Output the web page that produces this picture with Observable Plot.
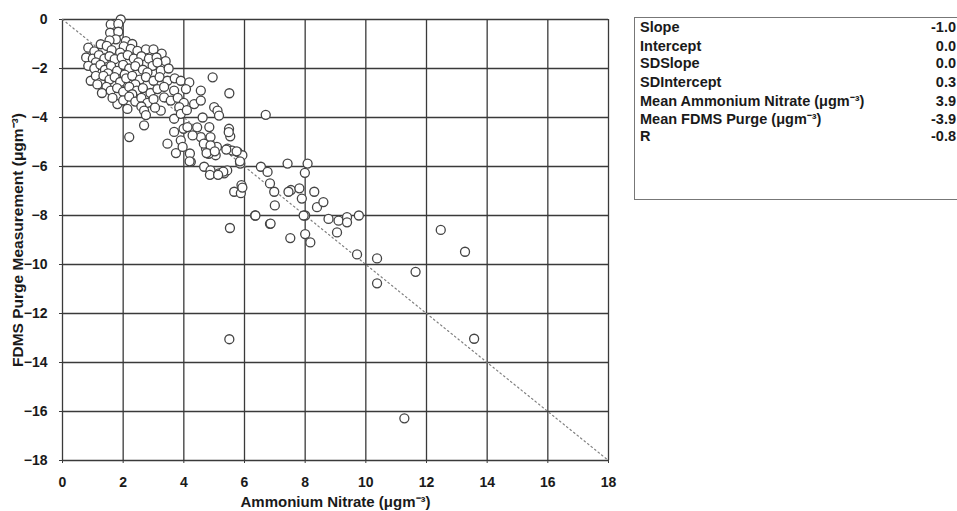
<!DOCTYPE html>
<html>
<head>
<meta charset="utf-8">
<script src="https://cdn.jsdelivr.net/npm/d3@7"></script>
<script src="https://cdn.jsdelivr.net/npm/@observablehq/plot@0.6"></script>
<style>
  html, body { margin: 0; padding: 0; background: #fff; overflow: hidden; }
  #wrap { position: relative; width: 957px; height: 511px; overflow: hidden; }
  #stats {
    position: absolute; left: 634px; top: 17px; width: 340px; height: 183px;
    border: 1px solid #777; box-sizing: border-box; background: #fff;
    font-family: "Liberation Sans", Arial, sans-serif; font-size: 14.5px; font-weight: bold; color: #1a1a1a;
  }
  #stats .row { position: absolute; left: 5px; height: 18px; line-height: 18px; white-space: nowrap; }
  #stats .val { position: absolute; right: 17px; height: 18px; line-height: 18px; text-align: right; }
</style>
</head>
<body>
<div id="wrap">
  <div id="chart"></div>
  <div id="stats"></div>
</div>
<script>
// Paired samples: [ammonium nitrate (µg m-3), FDMS purge measurement (µg m-3)]
const observations = [
  // low-concentration column near 2 µg m-3
  [1.92, 0.0], [1.59, -0.2], [1.84, -0.18], [1.57, -0.54], [1.84, -0.5], [1.76, -0.81], [2.09, -0.88], [1.55, -0.85], [2.3, -1.0],
  // dense cluster
  [0.85, -1.15], [1.05, -1.3], [1.26, -1.01], [1.46, -1.08], [1.62, -1.25], [2.02, -1.1], [2.25, -1.2], [2.47, -1.28], [2.75, -1.22], [3.0, -1.22], [3.27, -1.39], [1.9, -1.35],
  [0.78, -1.55], [1.0, -1.6], [1.2, -1.45], [1.38, -1.6], [1.55, -1.5], [1.72, -1.62], [1.95, -1.55], [2.15, -1.45], [2.35, -1.6], [2.6, -1.5], [2.85, -1.6], [3.1, -1.55], [3.4, -1.7], [1.1, -1.75], [2.5, -1.75],
  [0.85, -1.89], [1.05, -2.0], [1.25, -1.85], [1.4, -2.05], [1.6, -1.9], [1.8, -2.1], [2.0, -1.85], [2.2, -2.0], [2.4, -1.9], [2.65, -2.05], [2.97, -1.89], [3.13, -1.76], [3.24, -2.09], [2.8, -2.16], [3.5, -2.0], [1.5, -2.2], [2.05, -2.25],
  [0.93, -2.5], [1.1, -2.3], [1.26, -2.57], [1.35, -2.3], [1.55, -2.45], [1.72, -2.35], [1.9, -2.55], [2.1, -2.4], [2.3, -2.3], [2.55, -2.45], [2.75, -2.35], [3.0, -2.5], [3.2, -2.35], [3.46, -2.5], [3.7, -2.4], [3.9, -2.5], [4.18, -2.57], [1.15, -2.65], [2.4, -2.65],
  [1.45, -2.75], [1.59, -2.9], [1.8, -2.8], [2.0, -2.95], [2.2, -2.75], [2.45, -2.9], [2.65, -2.8], [2.9, -3.0], [3.13, -2.84], [3.35, -2.75], [3.68, -2.9], [4.07, -2.84], [4.56, -2.9], [1.3, -3.0], [2.3, -3.05],
  [1.81, -3.45], [1.65, -3.2], [2.0, -3.3], [2.2, -3.15], [2.4, -3.35], [2.6, -3.2], [2.8, -3.4], [3.0, -3.25], [3.35, -3.18], [3.57, -3.31], [3.8, -3.2], [4.0, -3.4], [4.34, -3.45], [4.56, -3.31], [2.6, -3.55],
  [2.14, -3.65], [2.69, -3.72], [3.24, -3.72], [3.85, -3.58], [3.68, -4.05], [3.9, -3.85], [4.1, -3.7], [5.0, -3.58], [5.11, -3.72], [4.62, -4.0], [5.16, -3.92], [6.7, -3.89], [2.75, -3.9], [3.05, -3.6],
  // middle range
  [2.2, -4.8], [2.69, -4.32], [3.46, -5.07], [3.74, -5.45], [3.9, -4.93], [3.99, -4.46], [4.2, -5.47], [4.23, -5.81], [4.95, -2.36], [5.5, -3.01],
  [4.84, -4.39], [5.49, -4.46], [5.53, -4.77], [4.67, -6.01], [4.89, -6.28], [5.16, -6.28], [5.44, -5.27], [5.77, -5.4], [5.93, -5.54], [5.86, -5.88],
  [6.54, -6.01], [6.76, -6.22], [7.42, -5.88], [8.08, -5.88], [7.99, -6.26], [5.66, -7.03], [5.88, -7.09], [6.98, -7.03], [7.53, -6.96], [7.81, -6.89], [8.3, -7.03],
  [4.73, -5.27], [3.96, -5.2], [4.56, -4.8], [4.78, -5.07], [3.68, -4.59], [4.12, -4.39], [4.29, -4.73], [5.09, -5.2], [5.05, -5.54], [5.33, -6.28],
  [4.44, -4.4], [4.88, -4.8], [4.66, -5.07], [4.88, -5.14], [4.82, -5.48], [5.48, -4.6], [5.6, -5.35], [4.88, -6.16], [5.43, -6.16],
  [4.19, -5.79], [4.86, -6.34], [5.3, -6.21], [5.13, -6.34], [4.75, -5.45], [5.02, -5.38], [5.4, -5.31], [5.74, -5.38], [5.85, -5.79], [5.9, -6.76],
  [6.35, -8.0], [5.52, -8.51], [6.84, -6.69], [7.0, -7.59], [6.84, -8.34], [7.45, -7.03], [7.51, -8.92], [7.89, -7.31], [8.0, -8.0], [8.0, -8.76], [8.17, -9.1],
  [8.39, -7.66], [8.6, -7.45], [8.77, -8.14], [9.1, -8.21], [9.05, -8.69], [9.38, -8.07], [9.38, -8.28], [9.77, -8.0], [9.71, -9.59], [5.93, -6.86], [6.36, -8.0], [7.95, -8.0], [6.86, -8.33],
  // high-concentration samples
  [10.37, -9.75], [10.37, -10.77], [11.64, -10.3], [12.47, -8.59], [13.27, -9.48], [13.57, -13.03], [11.27, -16.28], [5.5, -13.05]
];

// 1:1 reference line end points (purge = -ammonium)
const oneToOne = [0, 18];

const xTicks = [0, 2, 4, 6, 8, 10, 12, 14, 16, 18];
const yTicks = [0, -2, -4, -6, -8, -10, -12, -14, -16, -18];

const xTitle = "Ammonium Nitrate (μgm⁻³)";
const yTitle = "FDMS Purge Measurement (μgm⁻³)";

const statLabels = ["Slope", "Intercept", "SDSlope", "SDIntercept", "Mean Ammonium Nitrate (μgm⁻³)", "Mean FDMS Purge (μgm⁻³)", "R"];
const statValues = ["-1.0", "0.0", "0.0", "0.3", "3.9", "-3.9", "-0.8"];

const font = "'Liberation Sans', Arial, sans-serif";
const gridColor = "#3a3a3a";
const ink = "#1a1a1a";

const chart = Plot.plot({
  width: 957,
  height: 511,
  marginLeft: 62,
  marginRight: 349,
  marginTop: 19,
  marginBottom: 51,
  style: { fontFamily: font, background: "white", color: ink },
  x: { domain: [0, 18] },
  y: { domain: [-18, 0] },
  marks: [
    Plot.gridX(xTicks, { stroke: gridColor, strokeOpacity: 1, strokeWidth: 1.3 }),
    Plot.gridY(yTicks, { stroke: gridColor, strokeOpacity: 1, strokeWidth: 1.3 }),
    Plot.line(oneToOne, { x: d => d, y: d => -d, stroke: "#808080", strokeWidth: 1.2, strokeDasharray: "1.5,3" }),
    Plot.dot(observations, { x: d => d[0], y: d => d[1], r: 4.5, fill: "white", stroke: "#444", strokeWidth: 1.3 }),
    Plot.axisX(xTicks, { tickSize: 3, tickPadding: 14, fontSize: 14, fontWeight: "bold", label: null, stroke: gridColor }),
    Plot.axisY(yTicks, { tickSize: 3, tickPadding: 12, fontSize: 14, fontWeight: "bold", label: null, stroke: gridColor }),
    Plot.text([xTitle], { frameAnchor: "bottom", textAnchor: "middle", lineAnchor: "bottom", dy: 46, fontSize: 15, fontWeight: "bold", text: d => d, fill: ink }),
    Plot.text([yTitle], { frameAnchor: "left", textAnchor: "middle", lineAnchor: "middle", dx: -44, rotate: -90, fontSize: 15.5, fontWeight: "bold", text: d => d, fill: ink })
  ]
});
document.getElementById("chart").appendChild(chart);

// statistics panel
const stats = d3.select("#stats");
const rowTops = [0, 19, 36, 55, 74, 92, 109];
statLabels.forEach((label, i) => {
  stats.append("div").attr("class", "row").style("top", rowTops[i] + "px").text(label);
  stats.append("div").attr("class", "val").style("top", rowTops[i] + "px").text(statValues[i]);
});
</script>
</body>
</html>
